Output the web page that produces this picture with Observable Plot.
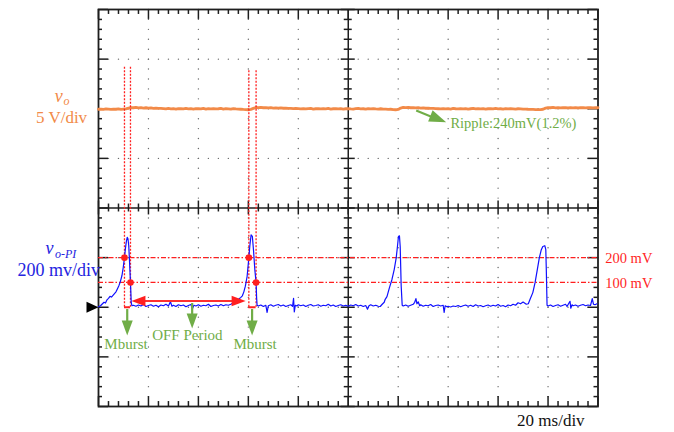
<!DOCTYPE html>
<html>
<head>
<meta charset="utf-8">
<script src="https://cdn.jsdelivr.net/npm/d3@7"></script>
<script src="https://cdn.jsdelivr.net/npm/@observablehq/plot@0.6"></script>
<style>
  html, body { margin: 0; padding: 0; background: #fff; }
</style>
</head>
<body>
<div id="chart"></div>
<script>
// ---- Channel 1: output voltage v_o (V), one sample per ms over the 200 ms record
const voStepMs = 1;
const voVolts = [
  19.95, 19.97, 19.94, 19.98, 19.96, 19.93, 19.97, 19.95, 19.98, 19.94,
  19.96, 19.98, 20.06, 20.12, 20.10, 20.13, 20.09, 20.11, 20.07, 20.10,
  20.06, 20.08, 20.04, 20.07, 20.03, 20.04, 20.02, 19.98, 20.03, 19.99,
  20.01, 19.97, 20.02, 20.00, 19.98, 20.03, 19.99, 20.01, 19.97, 20.02,
  20.00, 19.98, 20.03, 19.97, 20.01, 19.99, 20.02, 19.98, 20.00, 20.03,
  19.97, 20.01, 19.99, 19.97, 20.02, 19.98, 19.96, 19.95, 19.93, 19.92,
  19.90, 19.94, 20.04, 20.13, 20.11, 20.14, 20.10, 20.12, 20.09, 20.11,
  20.07, 20.09, 20.06, 20.08, 20.05, 20.06, 20.03, 20.04, 20.02, 20.03,
  20.01, 19.99, 20.02, 19.98, 20.01, 20.03, 19.97, 20.00, 20.02, 19.98,
  20.01, 19.99, 20.03, 19.97, 20.00, 20.02, 19.98, 20.01, 19.97, 20.00,
  20.02, 19.99, 19.97, 20.01, 20.03, 19.98, 20.00, 19.97, 20.02, 19.99,
  20.01, 19.98, 19.97, 20.00, 19.97, 19.96, 19.94, 19.95, 19.92, 19.90,
  19.93, 20.07, 20.14, 20.12, 20.13, 20.10, 20.12, 20.09, 20.11, 20.07,
  20.08, 20.05, 20.06, 20.03, 20.04, 20.02, 20.00, 19.98, 20.02, 19.99,
  20.01, 19.97, 20.03, 20.00, 19.98, 20.02, 19.99, 20.01, 19.97, 20.00,
  20.03, 19.98, 20.01, 19.99, 20.02, 19.97, 20.00, 20.01, 19.98, 20.03,
  19.99, 20.00, 19.97, 20.02, 19.98, 20.01, 19.99, 19.97, 20.00, 19.98,
  19.96, 19.97, 19.95, 19.94, 19.93, 19.92, 19.91, 19.92, 19.95, 20.06,
  20.12, 20.10, 20.13, 20.09, 20.11, 20.08, 20.12, 20.10, 20.08, 20.11,
  20.09, 20.12, 20.08, 20.10, 20.11, 20.08, 20.10, 20.12, 20.09, 20.11,
  20.10
];

// ---- Channel 2: PI controller output v_o-PI, [time ms, mV]
const vpiTrace = [
  [0,2],[0.8,6],[1.6,14],[2.2,20],[2.8,17],[3.4,30],[4.0,36],[4.6,44],[5.2,41],[5.8,48],
  [6.4,55],[7.0,62],[7.6,75],[8.2,88],[8.8,105],[9.4,128],[9.9,160],[10.4,200],[10.8,238],[11.2,268],
  [11.5,282],[11.8,276],[12.1,250],[12.4,190],[12.8,100],[13.1,20],[13.4,6],
  [14,8],[15,4],[16,9],[17,5],[18,11],[19,3],[20,7],[21,10],[22,4],[23,8],
  [24,2],[25,9],[26,6],[27,12],[28,5],[28.8,22],[29.4,4],[30,8],[31,3],[32,10],
  [33,6],[34,9],[35,2],[36,7],[37,11],[37.6,-6],[38.2,8],[39,5],[40,10],[41,4],
  [42,8],[43,6],[44,12],[45,3],[46,7],[47,9],[48,5],[49,11],[50,6],[51,10],
  [52,8],[53,12],
  [54.1,19],[55.2,24],[56.1,32],[57.0,40],[57.6,46],[58.2,62],[58.8,85],[59.5,124],[60.2,200],[60.6,248],
  [61.1,292],[61.6,286],[62.1,225],[62.6,150],[63.1,100],[63.3,40],[63.5,8],
  [64,5],[65,9],[66,3],[67,8],[67.5,-21],[68,6],[69,10],[70,4],[71,8],[72,11],
  [73,5],[74,9],[75,3],[76,7],[77,10],[77.7,4],[78.1,36],[78.4,-19],[78.8,8],[79.5,5],
  [80,10],[81,6],[82,9],[83,3],[84,8],[85,11],[86,5],[87,7],[88,10],[89,4],
  [90,8],[91,6],[92,12],[93,5],[94,9],[95,3],[96,7],[97,10],[98,5],[99,8],
  [100,4],[101,9],[102,6],[103,11],[104,5],[105,8],[106,3],[107,7],[107.7,-8],[108.3,6],
  [109,10],[110,5],[111,8],[112,4],[112.8,3],
  [113.6,12],[114.4,20],[114.8,32],[115.5,43],[116.5,79],[117.5,112],[118.4,152],[119.2,199],[119.7,245],[120.1,285],
  [120.5,288],[120.8,245],[121.2,85],[121.6,8],
  [122,5],[123,9],[124,4],[125,8],[126,12],[126.6,20],[127.1,35],[127.5,14],[128,22],[128.6,6],
  [129,10],[130,4],[131,8],[132,6],[133,11],[134,3],[135,7],[136,9],[137,5],[138,8],
  [138.4,-21],[138.8,6],[139.5,2],[140,4],[141,1],[142,5],[143,3],[144,7],[145,2],[146,6],
  [147,9],[148,4],[149,8],[150,3],[151,10],[152,5],[153,7],[154,2],[155,6],[156,9],
  [157,4],[158,8],[159,5],[160,11],[161,4],[162,7],[163,2],[164,9],[165,6],[166,12],
  [167,8],[168,18],[169,14],[170,21],
  [171.3,12],[172.1,14],[172.8,32],[173.9,59],[174.8,99],[175.7,152],[176.5,199],[177.3,232],[177.9,245],[178.7,248],
  [179.1,232],[179.3,152],[179.6,8],
  [180,5],[181,9],[182,3],[183,7],[184,10],[185,4],[186,8],[187,12],[187.6,3],[188.2,14],
  [188.8,24],[189.1,-4],[189.6,10],[190,6],[191,9],[192,4],[193,8],[194,11],[195,6],[196,9],
  [197,7],[197.7,35],[198.2,12],[198.8,10],[199.6,14]
];

// Burst thresholds on v_o-PI (mV) and their labels
const thresholds = [200, 100];
const thresholdLabels = ["200 mV", "100 mV"];

// Burst windows [rising 200 mV crossing, falling 100 mV crossing] in ms
const burstWindows = [[10.4, 12.8], [60.2, 63.1]];
const burstLabels = ["Mburst", "Mburst"];
// OFF period between the two bursts (ms)
const offPeriod = [13.2, 58.9];
const offLabel = "OFF Period";

const rippleLabel = "Ripple:240mV(1.2%)";
const timeBaseLabel = "20 ms/div";

// ---- Screen layout: 10 x 8 divisions, y scale in divisions
const VO_OFFSET = 2, VO_NOMINAL = 20, VO_PER_DIV = 5;      // 5 V/div
const PI_OFFSET = -2, PI_PER_DIV = 200;                    // 200 mV/div
const voDiv = v => VO_OFFSET + (v - VO_NOMINAL) / VO_PER_DIV;
const piDiv = mv => PI_OFFSET + mv / PI_PER_DIV;

const ORANGE = "#f28a48", BLUE = "#1010ff", RED = "#ff1f1f", GREEN = "#70ad47", INK = "#1e1e1e";
const SERIF = "'Liberation Serif', 'Times New Roman', serif";

// Filled arrowhead symbol, tip at the anchor point, pointing along angle (deg, screen coords)
function head(angleDeg, len, width) {
  const a = angleDeg * Math.PI / 180, c = Math.cos(a), s = Math.sin(a);
  const pts = [[0, 0], [-len, -width / 2], [-len, width / 2]]
    .map(([x, y]) => [x * c - y * s, x * s + y * c]);
  return {
    draw(ctx) {
      ctx.moveTo(pts[0][0], pts[0][1]);
      ctx.lineTo(pts[1][0], pts[1][1]);
      ctx.lineTo(pts[2][0], pts[2][1]);
      ctx.closePath();
    }
  };
}

// Graticule
const minorT = d3.range(0, 51).map(i => i * 4);           // every 1/5 division in time
const minorD = d3.range(-20, 21).map(i => i / 5);          // every 1/5 division vertically
const gridT = [20, 40, 60, 80, 120, 140, 160, 180];
const gridD = [-3, -2, -1, 1, 2, 3];
const gridDots = [
  ...gridT.flatMap(t => minorD.map(y => ({t, y}))),
  ...gridD.flatMap(y => minorT.map(t => ({t, y})))
];
const isMajT = t => t % 20 === 0;
const isMajD = d => Math.abs(d - Math.round(d)) < 1e-9;

const tickStyle = {stroke: INK, strokeWidth: 1.5};

const voSeries = voVolts.map((v, i) => ({t: i * voStepMs, v}));
const crossings = burstWindows.flatMap(([a, b]) => [{t: a, mv: thresholds[0]}, {t: b, mv: thresholds[1]}]);
const markerTops = [2.84, 2.79];

const chart = Plot.plot({
  width: 674,
  height: 432,
  marginLeft: 98,
  marginRight: 76.5,
  marginTop: 9,
  marginBottom: 26,
  x: {domain: [0, 200], axis: null},
  y: {domain: [-4, 4], axis: null},
  style: {background: "#fff", fontFamily: SERIF},
  marks: [
    // dotted grid
    Plot.dot(gridDots, {x: "t", y: "y", r: 0.7, fill: "#6a6a6a", stroke: "none"}),
    // border ticks
    Plot.ruleX(minorT, {x: d => d, y1: 4, y2: d => 4 - (isMajT(d) ? 0.2 : 0.1), ...tickStyle}),
    Plot.ruleX(minorT, {x: d => d, y1: -4, y2: d => -4 + (isMajT(d) ? 0.2 : 0.1), ...tickStyle}),
    Plot.ruleY(minorD, {y: d => d, x1: 0, x2: d => (isMajD(d) ? 4 : 1.6), ...tickStyle}),
    Plot.ruleY(minorD, {y: d => d, x1: 200, x2: d => 200 - (isMajD(d) ? 4 : 1.6), ...tickStyle}),
    // centre cross with ticks
    Plot.ruleX([100], {stroke: INK, strokeWidth: 1.5}),
    Plot.ruleY([0], {stroke: INK, strokeWidth: 1.5}),
    Plot.ruleX(minorT, {x: d => d, y1: d => (isMajT(d) ? -0.14 : -0.08), y2: d => (isMajT(d) ? 0.14 : 0.08), ...tickStyle}),
    Plot.ruleY(minorD, {y: d => d, x1: d => 100 - (isMajD(d) ? 2.8 : 1.6), x2: d => 100 + (isMajD(d) ? 2.8 : 1.6), ...tickStyle}),
    Plot.frame({stroke: INK, strokeWidth: 1.8}),

    // threshold levels
    Plot.ruleY(thresholds, {y: piDiv, stroke: RED, strokeWidth: 1.2, strokeDasharray: "5,2,1.5,2"}),
    Plot.text(thresholds, {x: 202.9, y: piDiv, text: (d, i) => thresholdLabels[i], fill: RED,
      fontSize: 14.5, textAnchor: "start", dy: 1}),

    // v_o trace
    Plot.line(voSeries, {x: "t", y: d => voDiv(d.v), stroke: ORANGE, strokeWidth: 2.8, curve: "linear"}),

    // burst markers
    Plot.ruleX(burstWindows.flatMap((w, i) => w.map(t => ({t, top: markerTops[i]}))),
      {x: "t", y1: piDiv(0), y2: "top", stroke: RED, strokeWidth: 1.3, strokeDasharray: "2,1.5"}),
    Plot.ruleY(burstWindows, {y: piDiv(0), x1: d => d[0], x2: d => d[1], stroke: RED, strokeWidth: 2}),

    // v_o-PI trace
    Plot.line(vpiTrace, {x: d => d[0], y: d => piDiv(d[1]), stroke: BLUE, strokeWidth: 1.2}),

    Plot.dot(crossings, {x: "t", y: d => piDiv(d.mv), r: 3.3, fill: RED, stroke: "none"}),

    // OFF period double arrow
    Plot.ruleY([offPeriod], {y: piDiv(25), x1: d => d[0] + 4, x2: d => d[1] - 4, stroke: "#ff3030", strokeWidth: 2}),
    Plot.dot([offPeriod[0]], {x: d => d, y: piDiv(25), r: 1, symbol: head(180, 14, 10.5), fill: RED, stroke: "none"}),
    Plot.dot([offPeriod[1]], {x: d => d, y: piDiv(25), r: 1, symbol: head(0, 14, 10.5), fill: RED, stroke: "none"}),

    // ground marker for v_o-PI
    Plot.dot([0], {x: d => d, y: piDiv(0), r: 1, symbol: head(0, 12, 11), fill: "#000", stroke: "none"}),

    // green callouts
    Plot.ruleX([11.5, 61.5], {x: d => d, y1: piDiv(-9), y2: piDiv(-66), stroke: GREEN, strokeWidth: 2.2}),
    Plot.dot([11.5, 61.5], {x: d => d, y: piDiv(-114), r: 1, symbol: head(90, 15, 11), fill: GREEN, stroke: "none"}),
    Plot.ruleX([37.5], {x: d => d, y1: piDiv(15), y2: piDiv(-35), stroke: GREEN, strokeWidth: 2.2}),
    Plot.dot([37.5], {x: d => d, y: piDiv(-86), r: 1, symbol: head(90, 15, 11), fill: GREEN, stroke: "none"}),
    Plot.text(burstLabels, {x: (d, i) => [11.0, 62.7][i], y: -2.837, text: d => d, fill: GREEN,
      fontSize: 15, lineAnchor: "bottom", textAnchor: "middle"}),
    Plot.text([offLabel], {x: 35.6, y: -2.651, text: d => d, fill: GREEN, fontSize: 15,
      lineAnchor: "bottom", textAnchor: "middle"}),

    // ripple callout
    Plot.link([{x1: 127.2, y1: 19.82, x2: 135.0, y2: 19.02}],
      {x1: "x1", y1: d => voDiv(d.y1), x2: "x2", y2: d => voDiv(d.y2), stroke: GREEN, strokeWidth: 2}),
    Plot.dot([{t: 139.2, v: 18.65}], {x: "t", y: d => voDiv(d.v), r: 1, symbol: head(21.8, 17, 12), fill: GREEN, stroke: "none"}),
    Plot.text([rippleLabel], {x: 140.9, y: 1.612, text: d => d, fill: GREEN, fontSize: 14.5,
      lineAnchor: "bottom", textAnchor: "start"}),

    // channel labels
    Plot.text(["v"], {x: -17.5, y: 2.146, text: d => d, fill: ORANGE, fontSize: 18, fontStyle: "italic",
      lineAnchor: "bottom", textAnchor: "start"}),
    Plot.text(["o"], {x: -14.0, y: 2.08, text: d => d, fill: ORANGE, fontSize: 12, fontStyle: "italic",
      lineAnchor: "bottom", textAnchor: "start"}),
    Plot.text(["5 V/div"], {x: -14.8, y: 1.709, text: d => d, fill: ORANGE, fontSize: 17,
      lineAnchor: "bottom", textAnchor: "middle"}),
    Plot.text(["v"], {x: -21.2, y: -0.937, text: d => d, fill: "#2424e0", fontSize: 18, fontStyle: "italic",
      lineAnchor: "bottom", textAnchor: "start"}),
    Plot.text(["o-PI"], {x: -17.4, y: -1.008, text: d => d, fill: "#2424e0", fontSize: 12, fontStyle: "italic",
      lineAnchor: "bottom", textAnchor: "start"}),
    Plot.text(["200 mv/div"], {x: -32.4, y: -1.366, text: d => d, fill: "#2424e0", fontSize: 18,
      lineAnchor: "bottom", textAnchor: "start"}),

    // time base
    Plot.text([timeBaseLabel], {x: 167.6, y: -4.403, text: d => d, fill: "#111", fontSize: 17,
      lineAnchor: "bottom", textAnchor: "start"})
  ]
});

document.getElementById("chart").appendChild(chart);
</script>
</body>
</html>
